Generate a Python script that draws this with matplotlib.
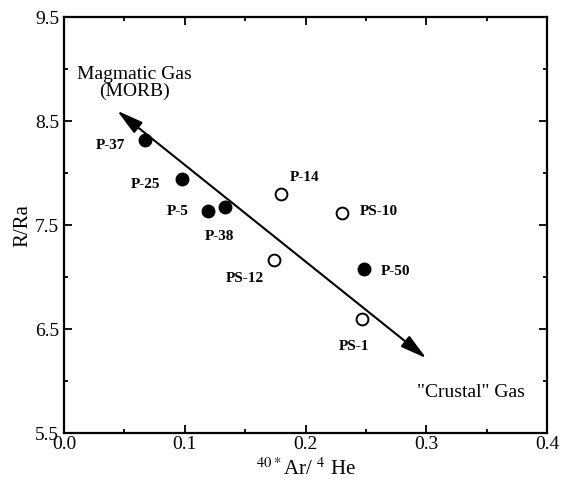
import matplotlib
matplotlib.use("Agg")
import matplotlib.pyplot as plt
from matplotlib.ticker import MultipleLocator

plt.rcParams['font.family'] = ['Liberation Serif', 'DejaVu Serif']
plt.rcParams['mathtext.fontset'] = 'stix'

# data
names = ["P-37", "P-25", "P-5", "P-38", "P-14", "PS-12", "PS-10", "P-50", "PS-1"]
ar_he = [0.067, 0.098, 0.119, 0.133, 0.180, 0.174, 0.230, 0.248, 0.247]
r_ra = [8.32, 7.94, 7.64, 7.67, 7.80, 7.16, 7.62, 7.08, 6.60]
filled = [True, True, True, True, False, False, False, True, False]

# label anchor for each sample (x, y, ha)
lab_x = [0.051, 0.080, 0.103, 0.129, 0.187, 0.150, 0.245, 0.262, 0.240]
lab_y = [8.27, 7.89, 7.63, 7.39, 7.96, 6.99, 7.63, 7.05, 6.33]
lab_ha = ["right", "right", "right", "center", "left", "center", "left", "left", "center"]

arrow_start = (0.044, 8.60)
arrow_end = (0.300, 6.22)

fig = plt.figure(figsize=(5.63, 4.91), dpi=100)
ax = fig.add_axes([0.1137, 0.118, 0.858, 0.847])

ax.annotate("", xy=arrow_start, xytext=arrow_end,
            arrowprops=dict(arrowstyle="<|-|>,head_length=1.15,head_width=0.3",
                            color="black", lw=1.5, mutation_scale=14,
                            shrinkA=0, shrinkB=0))

for i in range(len(names)):
    if filled[i]:
        ax.plot(ar_he[i], r_ra[i], "o", ms=9, mfc="black", mec="black", zorder=3)
    else:
        ax.plot(ar_he[i], r_ra[i], "o", ms=8.5, mfc="white", mec="black", mew=1.4, zorder=3)
    ax.text(lab_x[i], lab_y[i], names[i], ha=lab_ha[i], va="center",
            fontsize=11, fontweight="bold")

ax.text(0.058, 8.87, "Magmatic Gas\n(MORB)", ha="center", va="center",
        fontsize=14, linespacing=1.0)
ax.text(0.292, 5.89, "\"Crustal\" Gas", ha="left", va="center", fontsize=14)

ax.set_xlim(0.0, 0.4)
ax.set_ylim(5.5, 9.5)
ax.set_xticks([0.0, 0.1, 0.2, 0.3, 0.4])
ax.set_yticks([5.5, 6.5, 7.5, 8.5, 9.5])
ax.set_xticklabels(["0.0", "0.1", "0.2", "0.3", "0.4"])
ax.set_yticklabels(["5.5", "6.5", "7.5", "8.5", "9.5"])
ax.xaxis.set_minor_locator(MultipleLocator(0.05))
ax.yaxis.set_minor_locator(MultipleLocator(0.5))
ax.tick_params(which="both", direction="in", top=True, right=True, width=1.3, labelsize=14)
ax.tick_params(which="major", length=6)
ax.tick_params(which="minor", length=3)
ax.tick_params(axis="x", pad=2)
for s in ax.spines.values():
    s.set_linewidth(1.6)

ax.set_xlabel("$^{40*}$Ar/ $^{4}$ He", fontsize=15, labelpad=4)
ax.set_ylabel("R/Ra", fontsize=15, labelpad=2)

fig.savefig("out.png", dpi=100)
